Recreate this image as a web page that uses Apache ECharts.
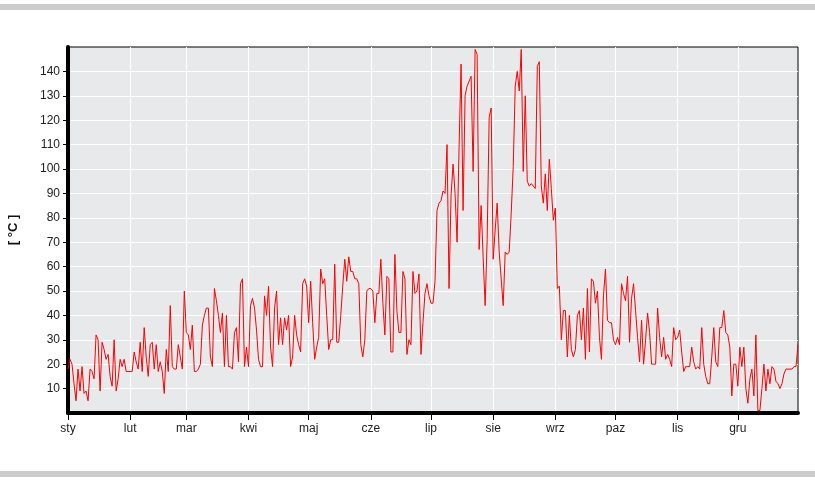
<!DOCTYPE html>
<html>
<head>
<meta charset="utf-8">
<script src="https://cdn.jsdelivr.net/npm/echarts@6/dist/echarts.min.js"></script>
<style>
html,body{margin:0;padding:0;background:#fff;}
#chart{width:815px;height:489px;}
</style>
</head>
<body>
<div id="chart"></div>
<script>
// Month tick labels and the index of each month's first day
const monthLabels = ['sty','lut','mar','kwi','maj','cze','lip','sie','wrz','paz','lis','gru'];
const monthStarts = [0,31,59,90,120,151,181,212,243,273,304,334];
const yTickValues = [10,20,30,40,50,60,70,80,90,100,110,120,130,140];

// Daily values per month (°C)
const jan = [18,22,20,12,5,18,9,19,8,9,5,18,17,14,32,30,9,29,26,22,24,15,11,30,9,14,22,19,22,17,17];
const feb = [17,17,25,21,18,29,17,35,23,15,28,29,18,28,17,21,17,8,26,17,44,19,18,18,28,23,18,50];
const mar = [33,32,26,36,17,17,18,20,36,40,43,43,23,19,51,46,40,33,41,19,40,19,19,18,33,35,21,53,55,19,27];
const apr = [19,44,47,43,34,22,19,19,48,40,52,27,19,43,50,28,39,28,39,34,40,19,23,40,32,28,25,53,55,52];
const may = [37,54,37,22,27,31,59,53,55,40,26,30,30,61,29,29,40,52,63,54,64,58,58,55,55,53,28,23,30,50,51];
const jun = [51,50,37,49,49,63,45,32,56,55,25,25,65,42,33,33,58,55,24,30,28,58,49,50,57,24,37,49,53,48];
const jul = [45,45,54,83,86,87,91,90,110,51,89,102,90,70,109,143,83,130,134,136,138,99,149,147,67,85,64,44,71,121,125];
const aug = [63,75,86,66,55,44,66,65,66,82,101,134,140,132,149,99,130,95,93,94,93,92,142,144,93,86,98,83,104,92,79];
const sep = [84,51,52,30,42,42,23,40,26,23,26,40,42,30,43,22,51,25,55,54,45,50,31,22,48,59,38,37,37,30];
const oct = [28,31,28,53,49,46,56,29,47,53,42,31,21,38,20,30,41,33,20,20,20,43,31,23,31,22,24,22,19,35,30];
const nov = [31,34,25,17,19,19,19,27,21,18,19,18,35,20,15,12,12,23,35,21,19,35,35,42,33,32,27,7,20,20];
const dec = [11,27,19,27,10,4,14,18,7,32,1,1,10,20,9,18,12,19,18,13,12,10,12,16,18,18,18,18,19,19,28];

const values = [].concat(jan,feb,mar,apr,may,jun,jul,aug,sep,oct,nov,dec);
const dayCats = values.map((v,i)=>String(i));
const startSet = new Set(monthStarts);
const isStart = (i)=>startSet.has(i);

const chart = echarts.init(document.getElementById('chart'), null, {renderer:'canvas'});
chart.setOption({
  animation:false,
  backgroundColor:'#ffffff',
  textStyle:{fontFamily:'Liberation Sans, Arial, sans-serif'},
  graphic:[
    {type:'rect', shape:{x:0,y:4,width:815,height:6}, style:{fill:'#cccccc'}, silent:true},
    {type:'rect', shape:{x:0,y:471,width:815,height:6}, style:{fill:'#cccccc'}, silent:true}
  ],
  grid:{left:68, right:17, top:47, bottom:76, outerBoundsMode:'none', containLabel:false,
        show:true, backgroundColor:'#e8e9eb', borderColor:'#000', borderWidth:1},
  xAxis:{
    type:'category', data:dayCats, boundaryGap:false,
    axisLine:{lineStyle:{color:'#000', width:4}},
    axisTick:{interval:isStart, length:7, lineStyle:{color:'#000', width:1}},
    axisLabel:{interval:isStart, formatter:(v,i)=>monthLabels[monthStarts.indexOf(Number(v))], color:'#222', fontSize:12, margin:10},
    splitLine:{show:true, interval:isStart, lineStyle:{color:'#ffffff', width:1}}
  },
  yAxis:{
    type:'value', min:0, max:150, interval:10,
    name:'[ °C ]', nameLocation:'middle', nameGap:48,
    nameTextStyle:{fontWeight:'bold', fontSize:13, color:'#111'},
    axisLine:{show:true, lineStyle:{color:'#000', width:4}},
    axisTick:{show:true, length:5, customValues:yTickValues, lineStyle:{color:'#000', width:1}},
    axisLabel:{customValues:yTickValues, color:'#222', fontSize:12, margin:8},
    splitLine:{show:true, lineStyle:{color:'#ffffff', width:1}}
  },
  series:[{
    type:'line', data:values, showSymbol:false, symbol:'none',
    lineStyle:{color:'#ff0000', width:1}, z:3
  }]
});
</script>
</body>
</html>
